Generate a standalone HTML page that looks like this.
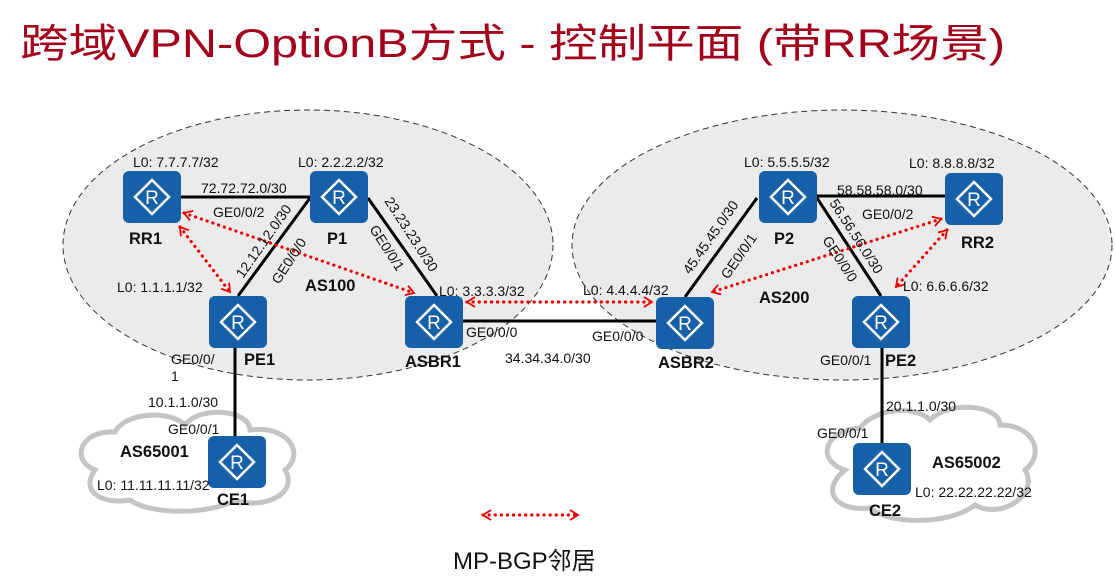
<!DOCTYPE html>
<html><head><meta charset="utf-8"><style>
html,body{margin:0;padding:0;background:#fff;}
svg{display:block;font-family:"Liberation Sans","Noto Sans CJK SC",sans-serif;}
.l{font-size:14px;fill:#111;}
.b{font-size:16.5px;font-weight:bold;fill:#111;}
</style></head><body>
<svg width="1116" height="584" viewBox="0 0 1116 584" xmlns="http://www.w3.org/2000/svg">
<defs>
<g id="r">
<rect x="0" y="0" width="58" height="52" rx="6" fill="#1560a8"/>
<path d="M29 9 L46 26 L29 43 L12 26 Z" fill="none" stroke="#fff" stroke-width="2.5"/>
<text x="29" y="33" font-size="19" fill="#fff" text-anchor="middle" font-family="Liberation Sans,sans-serif">R</text>
</g>
<marker id="a" markerWidth="12" markerHeight="12" refX="9" refY="6" orient="auto-start-reverse" markerUnits="userSpaceOnUse">
<path d="M1 1 L9 6 L1 11" fill="none" stroke="#e00" stroke-width="1.8"/>
</marker>
</defs>
<text x="20" y="57" font-size="40" fill="#a3001b" textLength="985" lengthAdjust="spacingAndGlyphs">跨域VPN-OptionB方式 - 控制平面 (带RR场景)</text>

<g fill="#fff" stroke="#c4c4c4" stroke-width="5">
<path d="M95 470 C70 460 80 430 115 432 C125 412 170 410 185 425 C200 405 250 410 250 430 C290 425 305 455 285 470 C300 495 260 510 235 500 C210 515 150 515 130 500 C100 505 80 490 95 470 Z"/>
<path d="M845 470 C815 460 825 430 860 428 C875 408 915 405 930 420 C950 400 1000 405 1000 425 C1035 425 1045 455 1025 470 C1040 495 1000 520 975 505 C950 525 890 525 870 508 C835 512 820 490 845 470 Z"/>
</g>

<ellipse cx="308" cy="245" rx="245" ry="135" fill="#ebebeb" stroke="#333" stroke-dasharray="6,4" stroke-width="1"/>
<ellipse cx="842" cy="245" rx="270" ry="135" fill="#ebebeb" stroke="#333" stroke-dasharray="6,4" stroke-width="1"/>

<g stroke="#000" stroke-width="3">
<line x1="181" y1="197" x2="310" y2="197"/>
<line x1="310" y1="198" x2="238" y2="296"/>
<line x1="368" y1="198" x2="437" y2="296"/>
<line x1="463" y1="321" x2="656" y2="321"/>
<line x1="757" y1="198" x2="685" y2="297"/>
<line x1="817" y1="196" x2="945" y2="196"/>
<line x1="817" y1="198" x2="881" y2="296"/>
<line x1="235" y1="348" x2="235" y2="436"/>
<line x1="882" y1="348" x2="882" y2="443"/>
</g>

<g stroke="#e00" stroke-width="3.2" stroke-dasharray="0.1,6" stroke-linecap="round" fill="none" marker-start="url(#a)" marker-end="url(#a)">
<line x1="180" y1="227" x2="230" y2="292"/>
<line x1="184" y1="213" x2="414" y2="293"/>
<line x1="467" y1="302" x2="652" y2="302"/>
<line x1="941" y1="219" x2="712" y2="292"/>
<line x1="947" y1="230" x2="896" y2="287"/>
<line x1="483" y1="515" x2="578" y2="515"/>
</g>

<use href="#r" x="123" y="171"/>
<use href="#r" x="310" y="171"/>
<use href="#r" x="209" y="296"/>
<use href="#r" x="405" y="296"/>
<use href="#r" x="759" y="171"/>
<use href="#r" x="945" y="173"/>
<use href="#r" x="656" y="297"/>
<use href="#r" x="852" y="296"/>
<use href="#r" x="208" y="436"/>
<use href="#r" x="853" y="443"/>

<g class="b">
<text x="129" y="244">RR1</text>
<text x="327" y="244">P1</text>
<text x="244" y="365">PE1</text>
<text x="405" y="367">ASBR1</text>
<text x="774" y="244">P2</text>
<text x="961" y="248">RR2</text>
<text x="658" y="368">ASBR2</text>
<text x="885" y="366">PE2</text>
<text x="217" y="505">CE1</text>
<text x="869" y="516">CE2</text>
<text x="305" y="291">AS100</text>
<text x="759" y="303">AS200</text>
<text x="120" y="457">AS65001</text>
<text x="932" y="468">AS65002</text>
</g>

<g class="l">
<text x="133" y="167">L0: 7.7.7.7/32</text>
<text x="298" y="167">L0: 2.2.2.2/32</text>
<text x="201" y="193">72.72.72.0/30</text>
<text x="213" y="217">GE0/0/2</text>
<text x="117" y="292">L0: 1.1.1.1/32</text>
<text x="439" y="296">L0: 3.3.3.3/32</text>
<text x="466" y="337">GE0/0/0</text>
<text x="505" y="363">34.34.34.0/30</text>
<text x="592" y="341">GE0/0/0</text>
<text x="583" y="295">L0: 4.4.4.4/32</text>
<text x="744" y="167">L0: 5.5.5.5/32</text>
<text x="909" y="168">L0: 8.8.8.8/32</text>
<text x="837" y="195">58.58.58.0/30</text>
<text x="862" y="219">GE0/0/2</text>
<text x="903" y="291">L0: 6.6.6.6/32</text>
<text x="820" y="365">GE0/0/1</text>
<text x="171" y="364">GE0/0/</text>
<text x="171" y="381">1</text>
<text x="148" y="407">10.1.1.0/30</text>
<text x="168" y="434">GE0/0/1</text>
<text x="97" y="490">L0: 11.11.11.11/32</text>
<text x="886" y="411">20.1.1.0/30</text>
<text x="817" y="438">GE0/0/1</text>
<text x="915" y="497">L0: 22.22.22.22/32</text>
<text transform="translate(243,279) rotate(-55)">12.12.12.0/30</text>
<text transform="translate(279,285) rotate(-57)">GE0/0/0</text>
<text transform="translate(384,201) rotate(57)">23.23.23.0/30</text>
<text transform="translate(369,229) rotate(57)">GE0/0/1</text>
<text transform="translate(690,275) rotate(-55)">45.45.45.0/30</text>
<text transform="translate(728,280) rotate(-55)">GE0/0/1</text>
<text transform="translate(829,203) rotate(57)">56.56.56.0/30</text>
<text transform="translate(822,240) rotate(57)">GE0/0/0</text>
</g>

<text x="453" y="569" font-size="24" fill="#111">MP-BGP邻居</text>
</svg>
</body></html>
